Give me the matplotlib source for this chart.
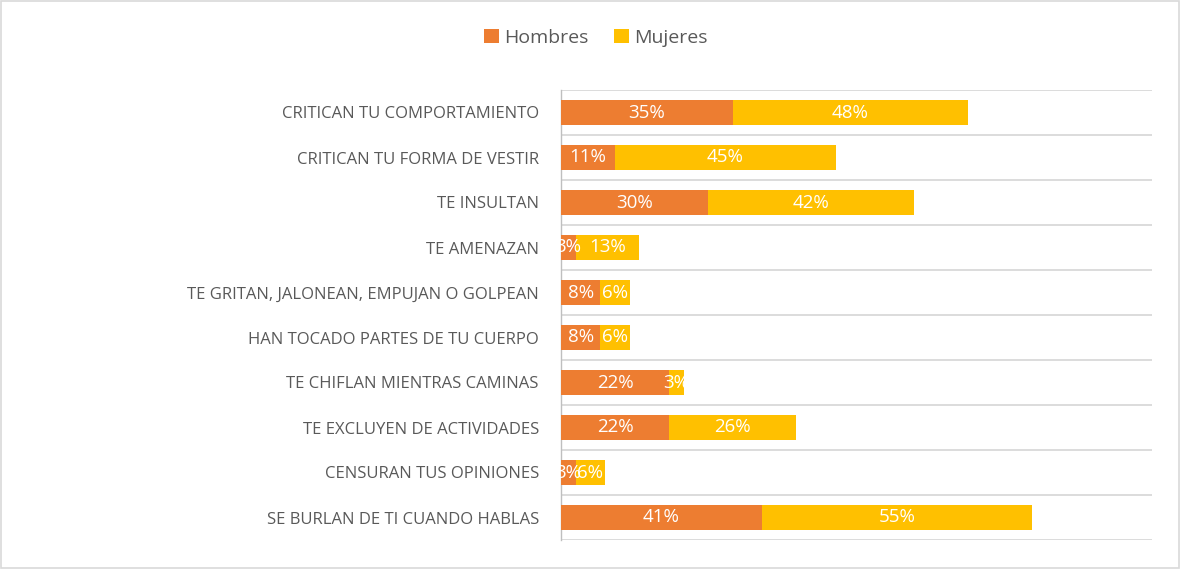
import matplotlib
matplotlib.use("Agg")
import matplotlib.pyplot as plt
import numpy as np

categories = [
    "CRITICAN TU COMPORTAMIENTO",
    "CRITICAN TU FORMA DE VESTIR",
    "TE INSULTAN",
    "TE AMENAZAN",
    "TE GRITAN, JALONEAN, EMPUJAN O GOLPEAN",
    "HAN TOCADO PARTES DE TU CUERPO",
    "TE CHIFLAN MIENTRAS CAMINAS",
    "TE EXCLUYEN DE ACTIVIDADES",
    "CENSURAN TUS OPINIONES",
    "SE BURLAN DE TI CUANDO HABLAS",
]
hombres = [35, 11, 30, 3, 8, 8, 22, 22, 3, 41]
mujeres = [48, 45, 42, 13, 6, 6, 3, 26, 6, 55]
series_names = ["Hombres", "Mujeres"]
colors = ["#ED7D31", "#FFC000"]

plt.rcParams['font.family'] = ['Open Sans', 'DejaVu Sans']

fig = plt.figure(figsize=(11.8, 5.69), dpi=100)
fig.patch.set_facecolor("white")
ax = fig.add_axes([561/1180, (569-540)/569, (1152-561)/1180, (540-90)/569])

n = len(categories)
y = np.arange(n)
h = 0.56
b1 = ax.barh(y, hombres, height=h, color=colors[0], label=series_names[0], zorder=3)
b2 = ax.barh(y, mujeres, left=hombres, height=h, color=colors[1], label=series_names[1], zorder=3)

for bars, vals in ((b1, hombres), (b2, mujeres)):
    for rect, v in zip(bars, vals):
        cx = rect.get_x() + rect.get_width() / 2
        cy = rect.get_y() + rect.get_height() / 2
        ax.text(cx, cy, f"{v}%", ha="center", va="center", color="white",
                fontsize=13.5, zorder=4)

ax.set_xlim(0, 120.5)
ax.set_ylim(n - 0.5, -0.5)
ax.set_yticks(y)
ax.set_yticklabels(categories, fontsize=12, color="#595959")
ax.tick_params(axis="y", length=0, pad=16)
ax.set_xticks([])

# horizontal gridlines at category boundaries
for b in np.arange(-0.5, n, 1.0):
    ax.axhline(b, color="#D9D9D9", lw=1.3, zorder=1)

for s in ["top", "right", "bottom"]:
    ax.spines[s].set_visible(False)
ax.spines["left"].set_color("#BFBFBF")
ax.spines["left"].set_linewidth(1.0)

fig.legend(handles=[b1, b2], labels=series_names, loc="center",
           bbox_to_anchor=(596/1180, 1 - 38/569), ncol=2, frameon=False,
           fontsize=14, labelcolor="#595959", handlelength=0.75,
           handleheight=0.75, handletextpad=0.3, columnspacing=1.3)

# outer border
fig.add_artist(plt.Rectangle((0.001, 0.001), 0.998, 0.998, transform=fig.transFigure,
                             fill=False, edgecolor="#D9D9D9", lw=1.2))

fig.savefig("out.png", dpi=100)
